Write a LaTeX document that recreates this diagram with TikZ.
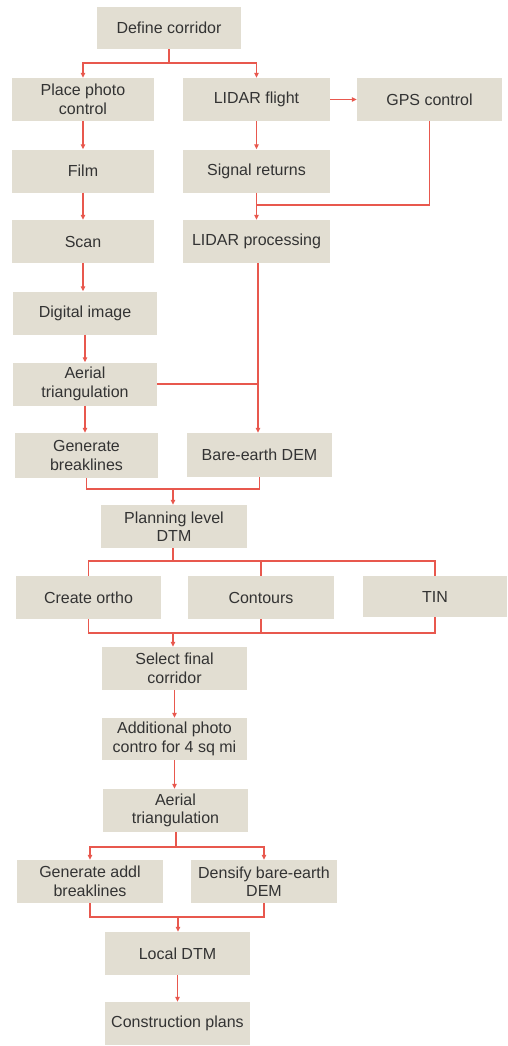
\documentclass[tikz,border=0pt]{standalone}
\usepackage{fontspec}
\setmainfont{Liberation Sans}
\usetikzlibrary{arrows.meta}
\definecolor{boxfill}{HTML}{E2DED2}
\definecolor{linered}{HTML}{E8584E}
\definecolor{txt}{HTML}{333333}
\tikzset{
  stepbox/.style={fill=boxfill, text=txt, minimum width=145pt, minimum height=43pt,
    inner sep=0pt, align=center, font=\fontsize{16}{18.5}\selectfont},
  conn/.style={draw=linered, line width=1.3pt},
  arr/.style={conn, -{Triangle[length=5pt,width=4.5pt]}}
}
\begin{document}
\begin{tikzpicture}[x=1pt,y=-1pt]
\useasboundingbox (0,0) rectangle (508,1046);
% nodes
\node[stepbox, minimum width=144pt, minimum height=42pt] (def) at (169,28) {Define corridor};
\node[stepbox, minimum width=142pt] (ppc) at (83,99.5) {Place photo\\control};
\node[stepbox, minimum width=147pt] (lf) at (256.5,99.5) {LIDAR flight};
\node[stepbox] (gps) at (429.5,99.5) {GPS control};
\node[stepbox, minimum width=142pt] (film) at (83,171) {Film};
\node[stepbox, minimum width=147pt] (sig) at (256.5,171) {Signal returns};
\node[stepbox, minimum width=142pt] (scan) at (83,241.5) {Scan};
\node[stepbox, minimum width=147pt] (lp) at (256.5,241.5) {LIDAR processing};
\node[stepbox, minimum width=144pt] (dig) at (85,313) {Digital image};
\node[stepbox, minimum width=144pt] (at1) at (85,384) {Aerial\\triangulation};
\node[stepbox, minimum width=143pt, minimum height=45pt] (gb) at (86.5,455.5) {Generate\\breaklines};
\node[stepbox, minimum height=44pt] (bed) at (259.5,455) {Bare-earth DEM};
\node[stepbox, minimum width=146pt] (pl) at (174,526.5) {Planning level\\DTM};
\node[stepbox] (co) at (88.5,597.5) {Create ortho};
\node[stepbox, minimum width=146pt] (cont) at (261,597.5) {Contours};
\node[stepbox, minimum width=144pt, minimum height=41pt] (tin) at (435,596.5) {TIN};
\node[stepbox] (sel) at (174.5,668.5) {Select final\\corridor};
\node[stepbox, minimum height=42pt] (add) at (174.5,739) {Additional photo\\contro for 4 sq mi};
\node[stepbox] (at2) at (175.5,810.5) {Aerial\\triangulation};
\node[stepbox, minimum width=146pt] (gab) at (90,881.5) {Generate addl\\breaklines};
\node[stepbox, minimum width=146pt] (dens) at (264,881.5) {Densify bare-earth\\DEM};
\node[stepbox] (ldtm) at (177.5,953.5) {Local DTM};
\node[stepbox] (cp) at (177.5,1023.5) {Construction plans};
% junction coordinates
\coordinate (j1) at (169,63);
\coordinate (j2) at (257,205);
\coordinate (j3) at (258,384);
\coordinate (j4) at (173,489);
\coordinate (j5) at (173,561);
\coordinate (j6) at (173,633);
\coordinate (j7) at (176,847);
\coordinate (j8) at (178,917);
% top split
\draw[conn] (j1 |- def.south) -- (j1);
\draw[arr] (j1) -| (ppc.north);
\draw[arr] (j1) -| (lf.north);
\draw[arr] (lf.east) -- (gps.west);
% left column
\draw[arr] (ppc.south) -- (ppc.south |- film.north);
\draw[arr] (film.south) -- (film.south |- scan.north);
\draw[arr] (scan.south) -- (scan.south |- dig.north);
\draw[arr] (dig.south) -- (dig.south |- at1.north);
\draw[arr] (at1.south) -- (at1.south |- gb.north);
% LIDAR column
\draw[arr] (lf.south) -- (lf.south |- sig.north);
\draw[conn] (gps.south) |- (j2);
\draw[arr] (sig.south) -- (sig.south |- lp.north);
\draw[arr] (j3 |- lp.south) -- (j3 |- bed.north);
\draw[conn] (at1.east) -- (j3);
% merge to planning level
\draw[conn] (gb.south) |- (j4);
\draw[conn] (bed.south) |- (j4);
\draw[arr] (j4) -- (j4 |- pl.north);
% split to products
\draw[conn] (j5 |- pl.south) -- (j5);
\draw[conn] (j5) -| (co.north);
\draw[conn] (j5) -| (tin.north);
\draw[conn] (cont.north) -- (cont.north |- j5);
% merge
\draw[conn] (co.south) |- (j6);
\draw[conn] (tin.south) |- (j6);
\draw[conn] (cont.south) -- (cont.south |- j6);
\draw[arr] (j6) -- (j6 |- sel.north);
\draw[arr] (sel.south) -- (sel.south |- add.north);
\draw[arr] (add.south) -- (add.south |- at2.north);
% final split
\draw[conn] (j7 |- at2.south) -- (j7);
\draw[arr] (j7) -| (gab.north);
\draw[arr] (j7) -| (dens.north);
\draw[conn] (gab.south) |- (j8);
\draw[conn] (dens.south) |- (j8);
\draw[arr] (j8) -- (j8 |- ldtm.north);
\draw[arr] (ldtm.south) -- (cp.north);
\end{tikzpicture}
\end{document}
